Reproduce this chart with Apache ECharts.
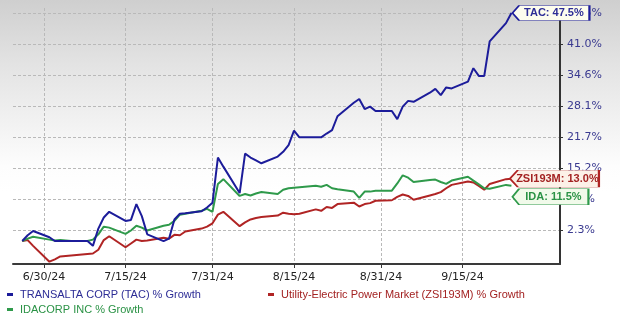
<!DOCTYPE html>
<html><head><meta charset="utf-8">
<script src="https://cdn.jsdelivr.net/npm/echarts@6/dist/echarts.min.js"></script>
<style>
html,body{margin:0;padding:0;background:#fff;}
#c{width:620px;height:320px;background:linear-gradient(to bottom,#cfcfcf 0%,#e3e3e3 20%,#f3f3f3 40%,#fdfdfd 52%,#ffffff 60%,#ffffff 100%);}
</style></head><body><div id="c"></div>
<script>
const dates = ['2024-06-26','2024-06-27','2024-06-28','2024-07-01','2024-07-02','2024-07-03','2024-07-04','2024-07-05',
'2024-07-08','2024-07-09','2024-07-10','2024-07-11','2024-07-12','2024-07-15','2024-07-16','2024-07-17','2024-07-18','2024-07-19',
'2024-07-22','2024-07-23','2024-07-24','2024-07-25','2024-07-26','2024-07-29','2024-07-30','2024-07-31','2024-08-01','2024-08-02',
'2024-08-05','2024-08-06','2024-08-07','2024-08-08','2024-08-09','2024-08-12','2024-08-13','2024-08-14','2024-08-15','2024-08-16',
'2024-08-19','2024-08-20','2024-08-21','2024-08-22','2024-08-23','2024-08-26','2024-08-27','2024-08-28','2024-08-29','2024-08-30',
'2024-09-02','2024-09-03','2024-09-04','2024-09-05','2024-09-06','2024-09-09','2024-09-10','2024-09-11','2024-09-12','2024-09-13',
'2024-09-16','2024-09-17','2024-09-18','2024-09-19','2024-09-20','2024-09-23','2024-09-24'];
const tacGrowth = [0.0,1.2,2.1,0.8,0.0,0.0,0.0,0.0,
0.0,-1.0,2.6,4.9,6.1,4.2,4.4,7.7,5.2,1.4,
0.0,0.5,4.5,5.7,5.8,6.2,7.0,8.0,17.4,15.5,
10.0,18.2,17.4,16.8,16.2,17.6,18.6,20.0,23.0,21.6,
21.6,21.6,22.4,23.1,26.0,28.8,29.6,27.5,28.0,27.1,
27.1,25.4,28.0,29.2,29.0,30.9,31.7,30.4,32.0,31.8,
33.2,36.0,34.4,34.4,41.6,45.4,47.5];
const zsiGrowth = [0.0,0.2,-1.0,-4.3,-3.8,-3.2,-3.1,-3.0,
-2.7,-2.6,-1.8,0.2,1.0,-1.3,-0.5,0.3,0.0,0.1,
0.7,0.5,1.3,1.2,2.0,2.6,3.0,3.7,5.5,6.1,
3.1,3.9,4.5,4.8,5.0,5.3,5.9,5.7,5.6,5.7,
6.6,6.3,7.1,6.9,7.7,8.0,7.2,7.7,7.9,8.4,
8.5,9.2,9.7,9.4,8.6,9.5,9.8,10.2,11.0,11.7,
12.4,12.2,11.5,10.7,11.9,12.9,13.0];
const idaGrowth = [0.0,0.5,0.9,0.3,0.1,0.2,0.1,0.0,
0.0,0.3,1.4,3.0,2.8,1.5,2.2,3.2,2.8,2.2,
3.2,3.4,4.2,5.5,5.7,6.3,6.7,6.1,11.9,12.9,
9.4,9.8,9.5,9.9,10.2,9.8,10.7,11.0,11.1,11.2,
11.5,11.3,11.7,11.0,10.8,10.3,9.0,10.3,10.3,10.5,
10.5,12.0,13.7,13.2,12.3,12.7,12.8,12.3,11.9,12.6,
13.4,12.6,11.8,11.0,10.9,11.7,11.5];
const xTickDates = ['2024-06-30','2024-07-15','2024-07-31','2024-08-15','2024-08-31','2024-09-15'];
const xRange = ['2024-06-24T07:12','2024-10-02T22:30'];
const yTickValues = [2.3,8.7,15.2,21.7,28.1,34.6,41.0,47.5];
const seriesNames = ['TRANSALTA CORP (TAC) % Growth','Utility-Electric Power Market (ZSI193M) % Growth','IDACORP INC % Growth'];
const endLabels = ['TAC: 47.5%','ZSI193M: 13.0%','IDA: 11.5%'];

const lineColors = ['#1c1c9a','#b02424','#2f9a4b'];
const textColors = ['#2d2d96','#a32222','#2a9245'];
const boxFills = ['#fdfdee','#fcf1e8','#f1faea'];
const boxSizes = [[77,15],[89,17],[76,16]];
const boxOffsets = [[39.5,0],[43,0],[39,11]];
const seriesValues = [tacGrowth, zsiGrowth, idaGrowth];

function ts(s){
  const [d, t] = s.split('T');
  const p = d.split('-').map(Number);
  let h = 0, m = 0;
  if (t) { const q = t.split(':').map(Number); h = q[0]; m = q[1]; }
  return new Date(p[0], p[1]-1, p[2], h, m).getTime();
}
function pair(vals){ return dates.map((d,i)=>[ts(d), vals[i]]); }

const chart = echarts.init(document.getElementById('c'), null, {renderer:'canvas'});
const series = seriesValues.map((vals, k) => ({
  name: seriesNames[k],
  type: 'line',
  data: pair(vals),
  showSymbol: false,
  symbol: 'none',
  z: k === 0 ? 4 : 3,
  lineStyle: {color: lineColors[k], width: 2},
  itemStyle: {color: lineColors[k]},
  markPoint: {
    silent: true,
    symbol: 'path://M0,8L7,0L80,0L80,16L7,16Z',
    symbolSize: boxSizes[k],
    symbolKeepAspect: false,
    symbolOffset: boxOffsets[k],
    itemStyle: {color: boxFills[k], borderColor: lineColors[k], borderWidth: 1},
    label: {show: true, position: 'inside', formatter: endLabels[k], color: textColors[k],
      fontWeight: 'bold', fontSize: 11, fontFamily: 'Liberation Sans, Arial, sans-serif', offset: [3, 0]},
    data: [{coord: [ts(dates[dates.length-1]), vals[vals.length-1]]}]
  }
}));

const legendText = {fontSize: 11, fontFamily: 'Liberation Sans, Arial, sans-serif', lineHeight: 13, padding: [0,0,0,2]};
chart.setOption({
  animation: false,
  backgroundColor: 'transparent',
  grid: {left: 13, right: 60, top: 8, bottom: 56, containLabel: false},
  legend: [
    {left: 7, top: 288, orient: 'vertical', itemGap: 2, padding: 0, itemWidth: 6, itemHeight: 3, icon: 'rect',
     selectedMode: false, textStyle: legendText,
     data: [{name: seriesNames[0], textStyle: {color: textColors[0]}}, {name: seriesNames[2], textStyle: {color: textColors[2]}}]},
    {left: 268, top: 288, orient: 'vertical', itemGap: 2, padding: 0, itemWidth: 6, itemHeight: 3, icon: 'rect',
     selectedMode: false, textStyle: legendText,
     data: [{name: seriesNames[1], textStyle: {color: textColors[1]}}]}
  ],
  xAxis: {
    type: 'value',
    min: ts(xRange[0]),
    max: ts(xRange[1]),
    axisLine: {onZero: false, show: true, lineStyle: {color: '#3a3a3a', width: 2}},
    axisTick: {show: true, length: 4, customValues: xTickDates.map(ts), lineStyle: {color: '#3a3a3a', width: 1}},
    axisLabel: {customValues: xTickDates.map(ts), color: '#222', fontSize: 11, fontFamily: 'DejaVu Sans, sans-serif', margin: 8,
      formatter: function(v){ const d = new Date(v); return (d.getMonth()+1) + '/' + d.getDate() + '/' + String(d.getFullYear()%100).padStart(2,'0'); }},
    splitLine: {show: true, lineStyle: {color: '#b9b9b9', type: [3,2], width: 1}}
  },
  yAxis: {
    type: 'value',
    position: 'right',
    min: -4.78,
    max: 48.55,
    axisLine: {onZero: false, show: true, lineStyle: {color: '#333', width: 2}},
    axisTick: {show: true, length: 3, customValues: yTickValues, lineStyle: {color: '#333', width: 1}},
    axisLabel: {customValues: yTickValues, color: '#3a3a90', fontSize: 11, fontFamily: 'DejaVu Sans, sans-serif', margin: 7,
      formatter: function(v){ return v.toFixed(1) + '%'; }},
    splitLine: {show: true, lineStyle: {color: '#b9b9b9', type: [3,2], width: 1}}
  },
  series: series
});
</script>
</body></html>
